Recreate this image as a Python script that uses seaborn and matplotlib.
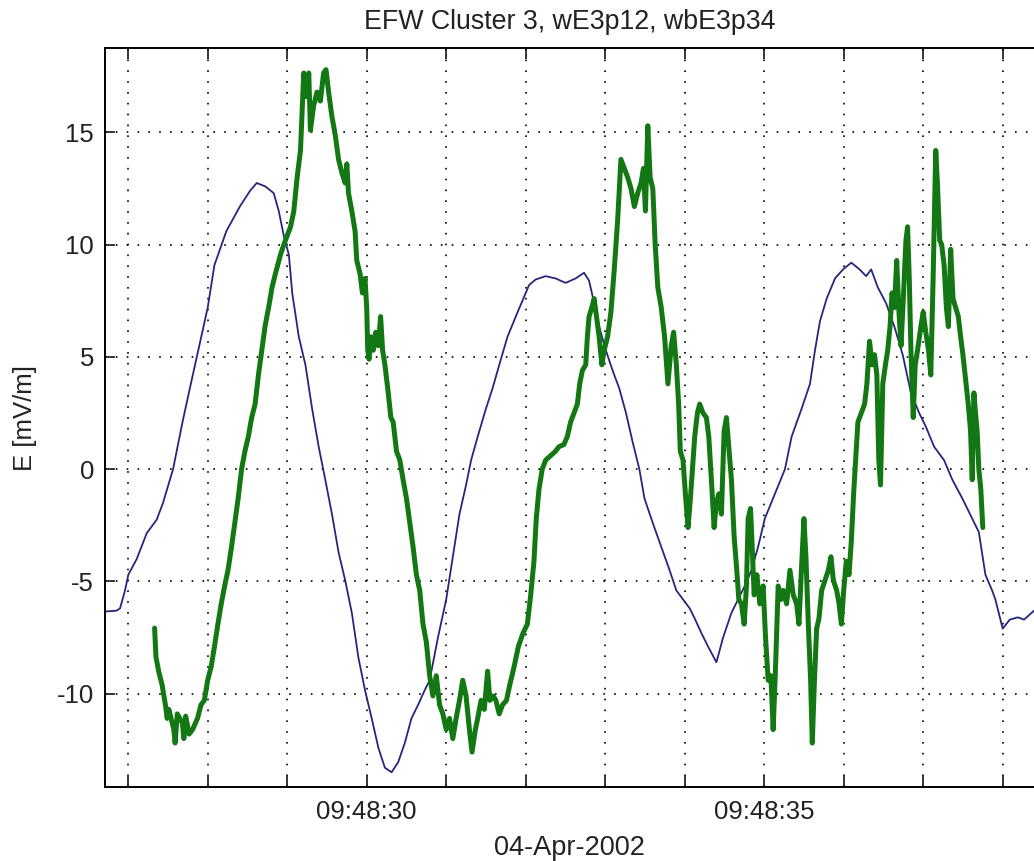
import matplotlib
matplotlib.use("Agg")
import matplotlib.pyplot as plt
import seaborn as sns
import pandas as pd
from matplotlib.ticker import FixedLocator, FixedFormatter

# wE3p12: low-rate field, seconds after 09:48:00 and mV/m
blue_t = [26.708, 26.855, 26.897, 26.960, 27.001, 27.107, 27.233, 27.358, 27.438, 27.564,
          27.689, 27.800, 27.894, 28.000, 28.085, 28.234, 28.404, 28.532, 28.617, 28.723,
          28.830, 28.894, 28.957, 29.021, 29.063, 29.146, 29.229, 29.313, 29.396, 29.479,
          29.563, 29.646, 29.729, 29.813, 29.896, 29.979, 30.063, 30.146, 30.229, 30.313,
          30.396, 30.479, 30.563, 30.646, 30.729, 30.792, 30.896, 31.000, 31.083, 31.167,
          31.250, 31.313, 31.396, 31.500, 31.583, 31.688, 31.771, 31.875, 31.958, 32.042,
          32.125, 32.250, 32.375, 32.502, 32.629, 32.734, 32.797, 32.861, 32.924, 33.008,
          33.093, 33.177, 33.262, 33.346, 33.430, 33.494, 33.599, 33.705, 33.810, 33.895,
          33.979, 34.063, 34.126, 34.210, 34.294, 34.399, 34.483, 34.588, 34.672, 34.756,
          34.840, 34.924, 35.008, 35.134, 35.261, 35.345, 35.471, 35.576, 35.639, 35.702,
          35.786, 35.891, 35.992, 36.096, 36.200, 36.283, 36.346, 36.429, 36.533, 36.638,
          36.742, 36.846, 36.950, 37.033, 37.138, 37.263, 37.367, 37.492, 37.617, 37.700,
          37.783, 37.867, 37.908, 38.000, 38.090, 38.190, 38.270, 38.394]
blue_v = [-6.34, -6.3, -6.2, -5.4, -4.7, -4.0, -2.85, -2.25, -1.5, 0.0,
          2.2, 4.0, 5.5, 7.2, 9.1, 10.6, 11.7, 12.4, 12.75, 12.6,
          12.3, 11.5, 10.4, 9.55, 7.85, 5.9, 4.65, 2.7, 1.0, -0.47,
          -2.0, -3.7, -4.95, -6.4, -8.4, -9.85, -11.1, -12.4, -13.3, -13.5,
          -13.05, -12.2, -11.1, -10.5, -9.85, -9.4, -7.5, -5.8, -3.9, -2.0,
          -0.7, 0.4, 1.45, 2.7, 3.6, 4.9, 5.9, 6.8, 7.5, 8.2,
          8.45, 8.6, 8.5, 8.3, 8.5, 8.75, 8.4, 7.4, 6.35, 5.3,
          4.4, 3.6, 2.5, 1.2, 0.0, -1.3, -2.4, -3.45, -4.5, -5.4,
          -5.8, -6.2, -6.65, -7.3, -7.9, -8.6, -7.5, -6.4, -5.8, -5.2,
          -4.5, -3.45, -2.2, -1.1, 0.0, 1.45, 2.7, 3.8, 5.3, 6.6,
          7.6, 8.5, 8.9, 9.2, 8.9, 8.6, 8.9, 8.1, 7.4, 6.35,
          5.1, 3.4, 2.5, 1.9, 1.0, 0.4, -0.47, -1.3, -2.2, -2.8,
          -4.7, -5.4, -5.8, -7.1, -6.7, -6.6, -6.7, -6.3]

# wbE3p34: burst-mode field
green_t = [27.332, 27.349, 27.383, 27.426, 27.468, 27.490, 27.511, 27.574, 27.590, 27.617,
           27.681, 27.700, 27.723, 27.766, 27.809, 27.872, 27.915, 27.957, 28.000, 28.043,
           28.085, 28.128, 28.170, 28.213, 28.255, 28.298, 28.340, 28.383, 28.426, 28.468,
           28.511, 28.553, 28.596, 28.638, 28.681, 28.723, 28.766, 28.809, 28.851, 28.915,
           28.957, 29.042, 29.083, 29.125, 29.167, 29.208, 29.238, 29.271, 29.292, 29.333,
           29.375, 29.417, 29.458, 29.488, 29.521, 29.563, 29.604, 29.646, 29.688, 29.729,
           29.750, 29.771, 29.813, 29.854, 29.875, 29.917, 29.946, 29.979, 30.000, 30.013,
           30.029, 30.054, 30.083, 30.113, 30.146, 30.175, 30.200, 30.229, 30.271, 30.304,
           30.333, 30.375, 30.417, 30.458, 30.500, 30.542, 30.583, 30.625, 30.667, 30.708,
           30.750, 30.792, 30.833, 30.875, 30.917, 30.958, 31.000, 31.042, 31.083, 31.125,
           31.167, 31.208, 31.250, 31.292, 31.325, 31.367, 31.396, 31.438, 31.479, 31.521,
           31.550, 31.592, 31.625, 31.667, 31.708, 31.758, 31.800, 31.854, 31.908, 31.967,
           32.021, 32.063, 32.104, 32.133, 32.167, 32.208, 32.250, 32.313, 32.375, 32.417,
           32.481, 32.523, 32.565, 32.608, 32.650, 32.679, 32.713, 32.755, 32.776, 32.797,
           32.831, 32.861, 32.890, 32.924, 32.958, 32.987, 33.030, 33.072, 33.114, 33.156,
           33.198, 33.241, 33.283, 33.325, 33.367, 33.409, 33.451, 33.481, 33.506, 33.536,
           33.565, 33.599, 33.629, 33.662, 33.705, 33.747, 33.789, 33.831, 33.861, 33.895,
           33.924, 33.945, 33.979, 34.013, 34.042, 34.072, 34.105, 34.126, 34.160, 34.189,
           34.231, 34.273, 34.303, 34.336, 34.370, 34.399, 34.429, 34.462, 34.496, 34.525,
           34.555, 34.588, 34.622, 34.651, 34.681, 34.714, 34.748, 34.777, 34.798, 34.828,
           34.849, 34.874, 34.908, 34.945, 34.987, 35.017, 35.050, 35.084, 35.113, 35.143,
           35.176, 35.210, 35.239, 35.282, 35.324, 35.366, 35.408, 35.437, 35.471, 35.500,
           35.525, 35.555, 35.584, 35.605, 35.630, 35.660, 35.689, 35.723, 35.765, 35.807,
           35.840, 35.870, 35.912, 35.942, 35.971, 36.000, 36.033, 36.067, 36.096, 36.125,
           36.150, 36.179, 36.221, 36.263, 36.292, 36.325, 36.358, 36.388, 36.417, 36.442,
           36.463, 36.492, 36.525, 36.554, 36.583, 36.608, 36.638, 36.667, 36.692, 36.721,
           36.750, 36.783, 36.804, 36.825, 36.846, 36.875, 36.900, 36.929, 36.971, 37.000,
           37.033, 37.067, 37.096, 37.125, 37.142, 37.158, 37.179, 37.208, 37.233, 37.263,
           37.292, 37.317, 37.346, 37.375, 37.408, 37.442, 37.471, 37.500, 37.533, 37.567,
           37.596, 37.617, 37.638, 37.658, 37.679, 37.700, 37.725, 37.750]
green_v = [-7.08, -8.36, -9.0, -9.6, -10.5, -11.1, -10.7, -11.6, -12.2, -10.9,
           -11.3, -12.0, -11.0, -11.8, -11.6, -11.1, -10.5, -10.3, -9.4, -8.8,
           -7.9, -6.9, -6.0, -5.2, -4.5, -3.5, -2.4, -1.3, 0.0, 0.8,
           1.45, 2.3, 2.9, 4.2, 5.3, 6.4, 7.2, 8.1, 8.7, 9.55,
           10.0, 10.8, 11.5, 13.0, 14.2, 17.65, 16.6, 17.65, 15.1, 16.2,
           16.8, 16.4, 17.65, 17.8, 16.8, 15.7, 14.9, 13.8, 13.2, 12.75,
           13.6, 12.3, 11.5, 10.6, 9.3, 8.7, 7.85, 8.5, 7.2, 5.3,
           4.9, 5.9, 5.3, 6.1, 5.5, 6.8, 5.3, 4.65, 3.4, 2.3,
           2.1, 0.8, 0.4, -0.47, -1.3, -2.4, -3.45, -4.7, -5.4, -6.9,
           -7.7, -9.2, -10.1, -9.2, -10.5, -10.9, -11.6, -11.1, -12.0, -11.1,
           -10.3, -9.4, -10.1, -11.6, -12.6, -11.6, -11.1, -10.3, -10.7, -9.0,
           -10.3, -10.1, -10.3, -10.9, -10.5, -10.3, -9.6, -8.8, -7.9, -7.3,
           -6.9, -5.6, -4.1, -2.2, -0.9, 0.0, 0.4, 0.6, 0.8, 1.0,
           1.1, 1.45, 2.1, 2.5, 2.9, 3.8, 4.4, 4.65, 5.9, 6.8,
           7.2, 7.6, 6.8, 5.9, 4.65, 5.3, 5.9, 7.0, 8.9, 11.05,
           13.8, 13.4, 13.0, 12.5, 11.7, 12.3, 12.75, 13.4, 11.5, 15.3,
           13.0, 12.5, 10.0, 8.1, 7.2, 5.9, 3.8, 5.5, 6.1, 4.65,
           2.9, 0.8, 0.4, -1.3, -2.6, -1.3, 0.4, 1.45, 2.5, 2.9,
           2.5, 2.3, 1.45, -0.47, -2.6, -1.5, -1.1, -2.0, 1.7, 2.3,
           1.0, -0.47, -3.0, -4.3, -5.8, -6.0, -6.9, -5.2, -2.2, -1.75,
           -3.45, -5.6, -4.7, -6.0, -5.2, -7.5, -9.4, -9.2, -11.6, -8.8,
           -5.2, -5.8, -5.4, -6.0, -4.5, -5.6, -6.0, -6.9, -4.3, -2.2,
           -3.9, -6.9, -9.4, -12.2, -9.6, -7.1, -6.65, -5.4, -4.95, -4.5,
           -3.9, -4.95, -5.4, -6.0, -6.9, -5.4, -4.1, -4.7, -3.2, -1.1,
           0.4, 2.1, 2.5, 2.9, 3.8, 5.7, 4.65, 5.1, 4.2, 0.4,
           -0.7, 3.8, 4.65, 5.3, 6.35, 7.85, 7.2, 9.3, 7.2, 5.5,
           7.6, 10.2, 10.8, 8.5, 5.3, 2.3, 4.65, 5.3, 6.35, 7.0,
           6.1, 5.3, 4.2, 8.5, 11.5, 14.2, 12.75, 10.2, 10.0, 9.1,
           7.2, 6.35, 9.8, 7.6, 7.2, 6.8, 5.9, 5.1, 4.0, 2.9,
           1.7, -0.47, 3.4, 2.5, 1.7, 0.0, -0.9, -2.6]

x_ticks = list(range(27, 39))
x_tick_labels = {30: "09:48:30", 35: "09:48:35"}
y_ticks = [-10, -5, 0, 5, 10, 15]

sns.set_style("white")
plt.rcParams["font.family"] = ["Liberation Sans", "DejaVu Sans"]
plt.rcParams["font.size"] = 18.5

fig = plt.figure(figsize=(10.34, 8.61), dpi=100)
ax = fig.add_axes([105 / 1034, 73.7 / 861, 1 - 105 / 1034, (787.3 - 48.3) / 861])

blue_df = pd.DataFrame({"t": blue_t, "E": blue_v})
green_df = pd.DataFrame({"t": green_t, "E": green_v})

sns.lineplot(data=blue_df, x="t", y="E", ax=ax, color="#26267f", lw=1.3,
             sort=False, estimator=None)
sns.lineplot(data=green_df, x="t", y="E", ax=ax, color="#137813", lw=3.6,
             sort=False, estimator=None)

ax.set_xlim(26.708, 38.394)
ax.set_ylim(-14.17, 18.75)

ax.xaxis.set_major_locator(FixedLocator(x_ticks))
ax.xaxis.set_major_formatter(FixedFormatter([x_tick_labels.get(t, "") for t in x_ticks]))
ax.yaxis.set_major_locator(FixedLocator(y_ticks))
ax.yaxis.set_major_formatter(FixedFormatter([str(v) for v in y_ticks]))

ax.grid(True, color="black", linestyle=(0, (1, 5.5)), linewidth=1.2)
ax.set_axisbelow(True)

for side in ["left", "bottom", "top"]:
    ax.spines[side].set_color("black")
    ax.spines[side].set_linewidth(1.4)
ax.spines["right"].set_visible(False)

ax.tick_params(axis="x", direction="in", length=8, width=1.1, top=True, bottom=True,
               pad=9, colors="black", labelcolor="#222222")
ax.tick_params(axis="y", direction="in", length=7, width=1.1, left=True, right=False,
               pad=8, colors="black", labelcolor="#222222")

ax.set_xlabel("04-Apr-2002", color="#222222", labelpad=8, fontsize=19.5)
ax.set_ylabel("E [mV/m]", color="#222222", labelpad=14)
ax.set_title("EFW Cluster 3, wE3p12, wbE3p34", color="#222222", pad=14, fontsize=19.3)

fig.savefig("out.png", dpi=100)
